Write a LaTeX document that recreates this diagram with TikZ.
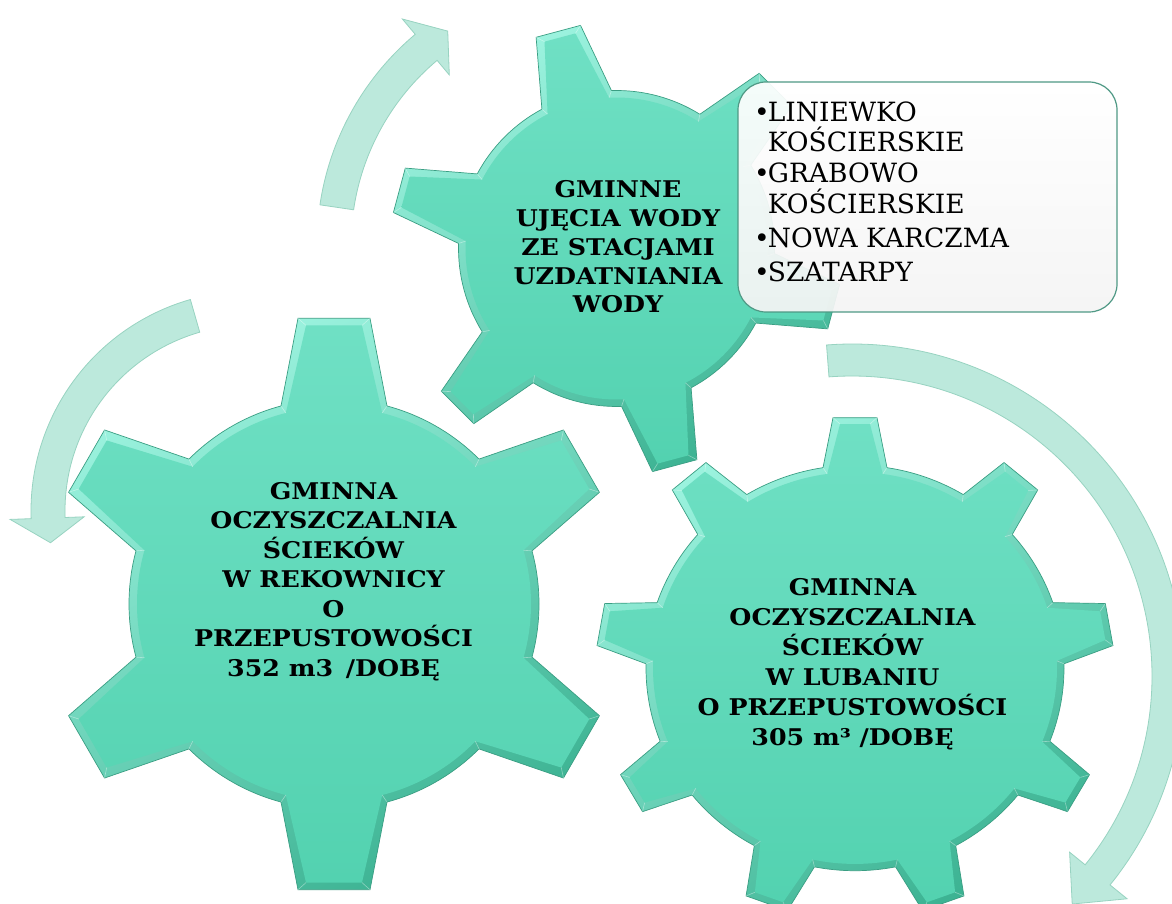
\documentclass[tikz,border=0pt]{standalone}
\usepackage{fontspec}
\setmainfont{DejaVu Serif}
\newfontfamily\gearfont[FakeStretch=1.1]{DejaVu Serif}
\definecolor{bevelLight}{HTML}{9CF3DF}
\definecolor{bevelDark}{HTML}{3DB393}
\definecolor{gearEdge}{HTML}{3A9E83}
\definecolor{faceTop}{HTML}{6FE0C4}
\definecolor{faceBot}{HTML}{53D2B0}
\definecolor{arrowFill}{HTML}{BCE9DC}
\definecolor{arrowEdge}{HTML}{98D3C1}
\definecolor{boxEdge}{HTML}{4F9985}
\tikzset{
  gearout/.style={top color=bevelLight, bottom color=bevelDark, shading angle=30, draw=gearEdge, line width=0.7pt},
  gearin/.style={top color=faceTop, bottom color=faceBot},
  bevel/.style={draw=white, draw opacity=0.4, line width=0.6pt},
  arrowshape/.style={fill=arrowFill, draw=arrowEdge, line width=0.8pt},
  geartext/.style={align=center, inner sep=0pt, text=black},
  listtext/.style={font=\fontsize{26.5}{31}\selectfont, anchor=base west, inner sep=0pt, text=black},
  listbox/.style={draw=boxEdge, line width=1.2pt, rounded corners=28pt, top color=white, bottom color=black!4!white, fill opacity=0.93, minimum width=379pt, minimum height=230pt, inner sep=0pt}
}
% #1 cx, #2 cy, #3 teeth, #4 first angle, #5 tip radius, #6 root radius, #7 tip half width, #8 base half width, #9 bevel depth
\newcommand{\drawgear}[9]{%
  \pgfmathsetmacro\gearS{360/#3}
  \pgfmathtruncatemacro\gearL{#3-1}
  \pgfmathsetmacro\gearBt{asin(#7/#5)}
  \pgfmathsetmacro\gearBb{asin(#8/#6)}
  \pgfmathsetmacro\gearRt{#5-#9}
  \pgfmathsetmacro\gearRr{#6-#9}
  \pgfmathsetmacro\gearBti{asin((#7-#9)/\gearRt)}
  \pgfmathsetmacro\gearBbi{asin((#8-0.6*#9)/\gearRr)}
  \path[gearout] ({#4-\gearBb}:#6) \foreach \k in {0,...,\gearL}{
     -- ({#4+\k*\gearS-\gearBt}:#5) -- ({#4+\k*\gearS+\gearBt}:#5) -- ({#4+\k*\gearS+\gearBb}:#6)
     arc[start angle={#4+\k*\gearS+\gearBb}, end angle={#4+(\k+1)*\gearS-\gearBb}, radius=#6]} -- cycle;
  \path[gearin] ({#4-\gearBbi}:\gearRr) \foreach \k in {0,...,\gearL}{
     -- ({#4+\k*\gearS-\gearBti}:\gearRt) -- ({#4+\k*\gearS+\gearBti}:\gearRt) -- ({#4+\k*\gearS+\gearBbi}:\gearRr)
     arc[start angle={#4+\k*\gearS+\gearBbi}, end angle={#4+(\k+1)*\gearS-\gearBbi}, radius=\gearRr]} -- cycle;
  \foreach \k in {0,...,\gearL}{
     \draw[bevel] ({#4+\k*\gearS-\gearBt}:#5) -- ({#4+\k*\gearS-\gearBti}:\gearRt);
     \draw[bevel] ({#4+\k*\gearS+\gearBt}:#5) -- ({#4+\k*\gearS+\gearBti}:\gearRt);
     \draw[bevel] ({#4+\k*\gearS-\gearBb}:#6) -- ({#4+\k*\gearS-\gearBbi}:\gearRr);
     \draw[bevel] ({#4+\k*\gearS+\gearBb}:#6) -- ({#4+\k*\gearS+\gearBbi}:\gearRr);
  }}
\begin{document}
\begin{tikzpicture}[x=1pt, y=1pt]
\useasboundingbox (0,0) rectangle (1172,903);
\fill[white] (0,0) rectangle (1172,903);
\clip (0,0) rectangle (1172,903);
% circular arrows
\begin{scope}[shift={(592,658)}]
 \path[arrowshape] (171.6:275) arc[start angle=171.6, end angle=130, radius=275pt]
   -- (130:295) -- (124:258) -- (130:222) -- (130:241)
   arc[start angle=130, end angle=171.6, radius=241pt] -- cycle;
\end{scope}
\begin{scope}[shift={(251,392)}]
 \path[arrowshape] (106:220) arc[start angle=106, end angle=182, radius=220pt]
   -- (182:241) -- (189:203) -- (182:167) -- (182:186)
   arc[start angle=182, end angle=106, radius=186pt] -- cycle;
\end{scope}
\begin{scope}[shift={(852,227)}]
 \path[arrowshape] (94.4:332) arc[start angle=94.4, end angle=-39, radius=332pt]
   -- (-39:354) -- (-46:317) -- (-39:280) -- (-39:300)
   arc[start angle=-39, end angle=94.4, radius=300pt] -- cycle;
\end{scope}
% gears
\begin{scope}[shift={(855,235)}, yscale=0.97]
 \drawgear{0}{0}{9}{90}{259}{209}{22}{32}{7}
\end{scope}
\begin{scope}[shift={(334,299)}]
 \drawgear{0}{0}{6}{90}{288}{205}{36}{53}{8}
\end{scope}
\begin{scope}[shift={(616.5,654.5)}]
 \drawgear{0}{0}{6}{105}{226}{158}{23}{36}{7}
\end{scope}
% list box
\node[listbox] (box) at (927.5,706) {};
\node[listtext] (l1) at (754,781) {•\kern-2pt LINIEWKO};
\node[listtext] (l2) at (754,751) {\hphantom{•}\kern-2pt KOŚCIERSKIE};
\node[listtext] (l3) at (754,720) {•\kern-2pt GRABOWO};
\node[listtext] (l4) at (754,689) {\hphantom{•}\kern-2pt KOŚCIERSKIE};
\node[listtext] (l5) at (754,655) {•\kern-2pt NOWA KARCZMA};
\node[listtext] (l6) at (754,621) {•\kern-2pt SZATARPY};
% gear texts
\node[geartext, font=\gearfont\fontsize{23}{28.7}\selectfont\bfseries] (t1) at (618,656) {GMINNE\\UJĘCIA WODY\\ZE STACJAMI\\UZDATNIANIA\\WODY};
\node[geartext, font=\gearfont\fontsize{23}{29.5}\selectfont\bfseries] (t2) at (333.5,321.5) {GMINNA\\OCZYSZCZALNIA\\ŚCIEKÓW\\W REKOWNICY\\O\\PRZEPUSTOWOŚCI\\352 m3\hspace{4pt} /DOBĘ};
\node[geartext, font=\gearfont\fontsize{23}{30}\selectfont\bfseries] (t3) at (852.5,238.3) {GMINNA\\OCZYSZCZALNIA\\ŚCIEKÓW\\W LUBANIU\\O PRZEPUSTOWOŚCI\\305 m³ /DOBĘ};
\end{tikzpicture}
\end{document}
